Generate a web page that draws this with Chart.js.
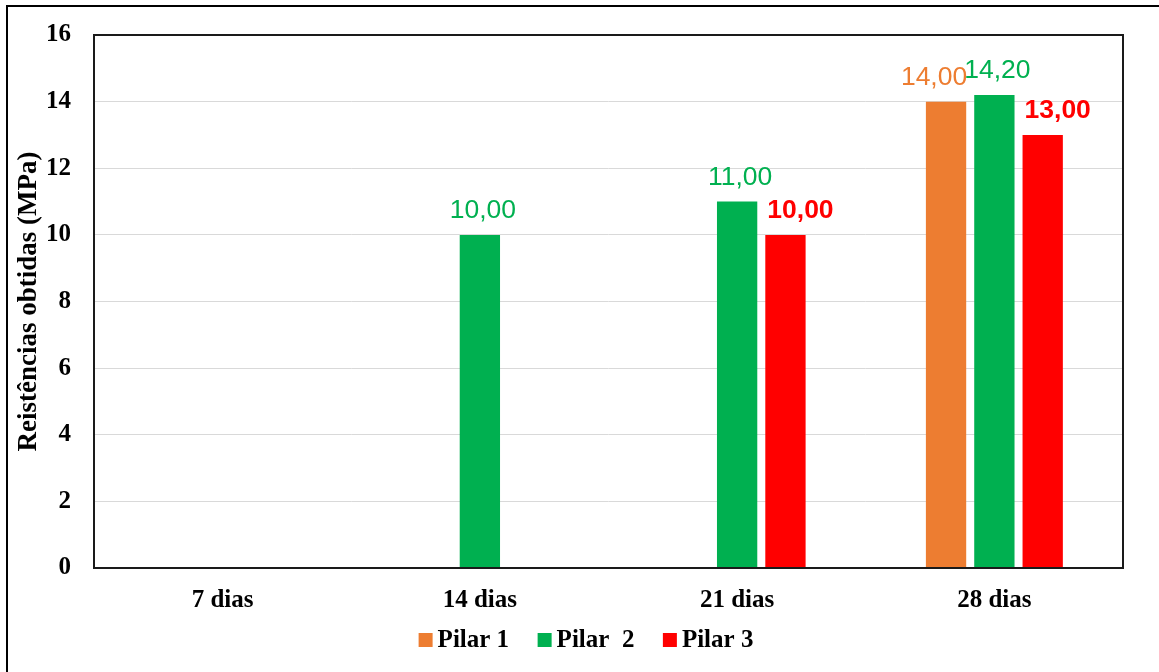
<!DOCTYPE html>
<html>
<head>
<meta charset="utf-8">
<script src="https://cdn.jsdelivr.net/npm/chart.js@4.4.1/dist/chart.umd.min.js"></script>
<style>
  html, body { margin: 0; padding: 0; background: #ffffff; }
  #wrap { width: 1159px; height: 672px; position: relative; }
  canvas { display: block; }
</style>
</head>
<body>
<div id="wrap"><canvas id="grafico" width="1159" height="672"></canvas></div>
<script>
// Idades de ruptura e resistências à compressão (MPa) de cada pilar
const idades = ['7 dias', '14 dias', '21 dias', '28 dias'];
const pilar1 = [null, null, null, 14.00];
const pilar2 = [null, 10.00, 11.00, 14.20];
const pilar3 = [null, null, 10.00, 13.00];
const nomesSeries = ['Pilar 1', 'Pilar  2', 'Pilar 3'];
const escalaY = { min: 0, max: 16, passo: 2 };

const SERIF = "'Liberation Serif', 'Times New Roman', serif";
const SANS = "'Liberation Sans', Arial, sans-serif";

const formatar = v => v.toFixed(2).replace('.', ',');

// Moldura externa, contorno da área do gráfico, rótulos de valor e legenda
const decoracao = {
  id: 'decoracao',
  beforeDraw(chart) {
    const ctx = chart.ctx;
    ctx.save();
    ctx.fillStyle = '#ffffff';
    ctx.fillRect(0, 0, chart.width, chart.height);
    ctx.restore();
  },
  afterDatasetsDraw(chart) {
    const ctx = chart.ctx;
    ctx.save();
    ctx.textAlign = 'center';
    ctx.textBaseline = 'alphabetic';
    chart.data.datasets.forEach((ds, i) => {
      const meta = chart.getDatasetMeta(i);
      meta.data.forEach((bar, j) => {
        const v = ds.data[j];
        if (v === null || v === undefined) return;
        ctx.fillStyle = ds.backgroundColor;
        ctx.font = (ds.rotuloNegrito ? 'bold ' : '') + '26.5px ' + SANS;
        ctx.fillText(formatar(v), bar.x + (ds.rotuloDx || 0), bar.y - 17);
      });
    });
    ctx.restore();
  },
  afterDraw(chart, args, opts) {
    const ctx = chart.ctx;
    const a = chart.chartArea;
    ctx.save();
    // contorno da área de plotagem
    ctx.strokeStyle = '#1a1a1a';
    ctx.lineWidth = 2;
    ctx.strokeRect(a.left, a.top, a.right - a.left, a.bottom - a.top);
    // moldura externa (topo e lateral esquerda)
    ctx.strokeStyle = '#000000';
    ctx.lineWidth = 2;
    ctx.beginPath();
    ctx.moveTo(7, chart.height);
    ctx.lineTo(7, 6);
    ctx.lineTo(chart.width, 6);
    ctx.stroke();
    // legenda
    ctx.font = 'bold 25px ' + SERIF;
    ctx.textBaseline = 'middle';
    ctx.textAlign = 'left';
    const caixa = 14, folga = 5, espaco = 28.5;
    const itens = chart.data.datasets.map(ds => ({
      cor: ds.backgroundColor, texto: ds.label, w: ctx.measureText(ds.label).width
    }));
    const total = itens.reduce((s, it) => s + caixa + folga + it.w, 0) + espaco * (itens.length - 1);
    let x = opts.centroX - total / 2;
    const cy = opts.centroY;
    itens.forEach(it => {
      ctx.fillStyle = it.cor;
      ctx.fillRect(x, cy - caixa / 2, caixa, caixa);
      ctx.fillStyle = '#000000';
      ctx.fillText(it.texto, x + caixa + folga, cy + 1);
      x += caixa + folga + it.w + espaco;
    });
    ctx.restore();
  }
};

new Chart(document.getElementById('grafico'), {
  type: 'bar',
  data: {
    labels: idades,
    datasets: [
      { label: nomesSeries[0], data: pilar1, backgroundColor: '#ED7D31', rotuloDx: -12 },
      { label: nomesSeries[1], data: pilar2, backgroundColor: '#00B050', rotuloDx: 3 },
      { label: nomesSeries[2], data: pilar3, backgroundColor: '#FF0000', rotuloDx: 15, rotuloNegrito: true }
    ]
  },
  options: {
    responsive: false,
    animation: false,
    devicePixelRatio: 1,
    layout: { padding: { left: 0, top: 35, right: 36, bottom: 52 } },
    datasets: { bar: { categoryPercentage: 0.5636, barPercentage: 0.834, borderWidth: 0 } },
    plugins: {
      legend: { display: false },
      tooltip: { enabled: false },
      decoracao: { centroX: 586, centroY: 640 }
    },
    scales: {
      x: {
        grid: { display: false, drawTicks: false },
        border: { display: false },
        ticks: { color: '#000000', padding: 18, font: { family: SERIF, size: 25, weight: 'bold' } },
        afterFit(s) { s.height = 52; s.paddingLeft = 0; s.paddingRight = 0; }
      },
      y: {
        min: escalaY.min,
        max: escalaY.max,
        grid: { color: '#d9d9d9', lineWidth: 1, drawTicks: false },
        border: { display: false },
        ticks: { stepSize: escalaY.passo, color: '#000000', padding: 23, font: { family: SERIF, size: 25, weight: 'bold' } },
        title: {
          display: true,
          text: 'Reistências obtidas (MPa)',
          color: '#000000',
          font: { family: SERIF, size: 27, weight: 'bold' },
          padding: { top: 13, bottom: 0 }
        },
        afterFit(s) { s.width = 94; s.paddingTop = 0; s.paddingBottom = 0; }
      }
    }
  },
  plugins: [decoracao]
});
</script>
</body>
</html>
